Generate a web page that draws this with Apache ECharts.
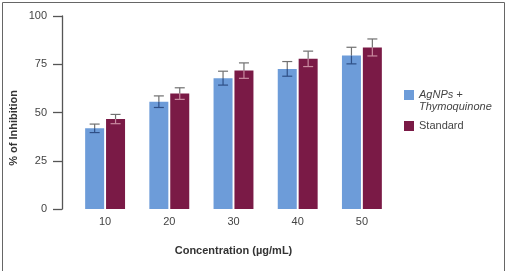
<!DOCTYPE html>
<html>
<head>
<meta charset="utf-8">
<script src="https://cdn.jsdelivr.net/npm/echarts@6/dist/echarts.min.js"></script>
<style>
  html, body { margin: 0; padding: 0; background: #fff; }
  #chart { width: 505px; height: 271px; }
</style>
</head>
<body>
<div id="chart"></div>
<script>
// concentrations (µg/mL)
const categories = ['10', '20', '30', '40', '50']
// % of inhibition
const agnpsValues = [41.8, 55.6, 67.8, 72.6, 79.5]
const agnpsErrors = [2.2, 3.0, 3.6, 3.8, 4.3]
const standardValues = [46.6, 59.8, 71.7, 77.8, 83.7]
const standardErrors = [2.4, 3.0, 4.0, 4.0, 4.4]
const yTicks = [0, 25, 50, 75, 100]

const BLUE = '#6d9cd9'
const MAROON = '#7a1a46'
const BAR_W = 19

const chart = echarts.init(document.getElementById('chart'))

// error bar: gray above the bar top, tinted where it overlaps the bar
function errorBar (values, errors, side, innerColor) {
  return {
    type: 'custom',
    z: 5,
    silent: true,
    data: values.map((v, i) => [i, v, v - errors[i], v + errors[i]]),
    renderItem (params, api) {
      const i = api.value(0)
      const off = side * (BAR_W + BAR_W * 0.1) / 2
      const top = api.coord([i, api.value(3)])
      const mid = api.coord([i, api.value(1)])
      const bot = api.coord([i, api.value(2)])
      const x = top[0] + off
      const cap = 5
      const outer = { stroke: '#707070', lineWidth: 1.2 }
      const inner = { stroke: innerColor, lineWidth: 1.2 }
      return {
        type: 'group',
        children: [
          { type: 'line', shape: { x1: x, y1: top[1], x2: x, y2: mid[1] }, style: outer },
          { type: 'line', shape: { x1: x - cap, y1: top[1], x2: x + cap, y2: top[1] }, style: outer },
          { type: 'line', shape: { x1: x, y1: mid[1], x2: x, y2: bot[1] }, style: inner },
          { type: 'line', shape: { x1: x - cap, y1: bot[1], x2: x + cap, y2: bot[1] }, style: inner }
        ]
      }
    }
  }
}

const option = {
  backgroundColor: '#fff',
  animation: false,
  textStyle: { fontFamily: 'Liberation Sans, Arial, sans-serif' },
  grid: { left: 73, right: 111, top: 16, bottom: 62 },
  legend: {
    orient: 'vertical',
    left: 404,
    top: 77,
    padding: 0,
    itemWidth: 10,
    itemHeight: 10,
    itemGap: 7,
    itemTextGap: 8,
    icon: 'rect',
    textStyle: { fontSize: 11, color: '#444', lineHeight: 12 },
    // blank first line keeps the swatch level with "AgNPs +"
    formatter: (name) => name === 'Standard' ? name : ' \nAgNPs +\nThymoquinone',
    data: [
      { name: 'AgNPs + Thymoquinone', textStyle: { fontStyle: 'italic' } },
      { name: 'Standard' }
    ]
  },
  xAxis: {
    type: 'category',
    data: categories,
    axisLine: { show: false },
    axisTick: { show: false },
    axisLabel: { fontSize: 11, color: '#444', margin: 7 },
    name: 'Concentration (µg/mL)',
    nameLocation: 'middle',
    nameGap: 36,
    nameTextStyle: { fontSize: 11, fontWeight: 'bold', color: '#333' }
  },
  yAxis: {
    type: 'value',
    min: 0,
    max: 100,
    interval: 25,
    offset: 11,
    splitLine: { show: false },
    axisLine: { show: true, lineStyle: { color: '#555', width: 1.3 } },
    axisTick: { show: true, length: 9, lineStyle: { color: '#555', width: 1.3 } },
    axisLabel: {
      fontSize: 11,
      color: '#444',
      margin: 15,
      formatter: (v) => yTicks.includes(v) ? String(v) : ''
    }
  },
  graphic: [
    {
      type: 'text',
      left: 8,
      top: 90,
      rotation: Math.PI / 2,
      style: {
        text: '% of Inhibition',
        fontSize: 11,
        fontWeight: 'bold',
        fill: '#333',
        fontFamily: 'Liberation Sans, Arial, sans-serif'
      }
    },
    {
      type: 'rect',
      left: 0,
      top: 0,
      shape: { x: 0.5, y: 0.5, width: 502, height: 269 },
      style: { fill: 'none', stroke: '#666', lineWidth: 1 },
      silent: true
    }
  ],
  series: [
    {
      name: 'AgNPs + Thymoquinone',
      type: 'bar',
      data: agnpsValues,
      barWidth: BAR_W,
      barGap: '10%',
      itemStyle: { color: BLUE }
    },
    {
      name: 'Standard',
      type: 'bar',
      data: standardValues,
      barWidth: BAR_W,
      barGap: '10%',
      itemStyle: { color: MAROON }
    },
    errorBar(agnpsValues, agnpsErrors, -1, '#2f4f86'),
    errorBar(standardValues, standardErrors, 1, '#c98aa0')
  ]
}

chart.setOption(option)
</script>
</body>
</html>
